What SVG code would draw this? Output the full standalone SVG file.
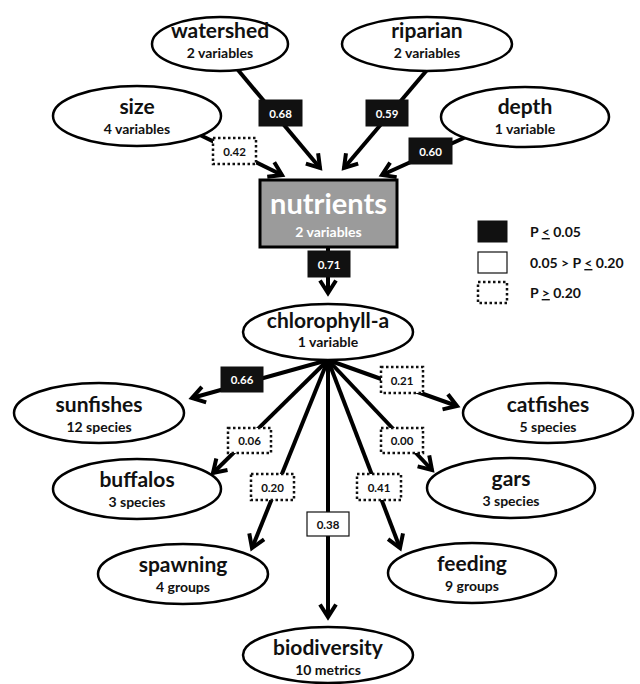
<svg xmlns="http://www.w3.org/2000/svg" width="640" height="684" viewBox="0 0 640 684">
<defs>
<marker id="arr" viewBox="0 0 20 20" markerWidth="20" markerHeight="20" markerUnits="userSpaceOnUse" refX="16" refY="10" orient="auto">
<path d="M3.5,2 L16,10 L3.5,18" fill="none" stroke="#000" stroke-width="4" stroke-linejoin="miter" stroke-linecap="butt"/>
</marker>
</defs>
<style>
text{font-family:Lato,"Open Sans","Liberation Sans",sans-serif;font-weight:bold;text-anchor:middle;fill:#111}
.node ellipse{fill:#fff;stroke:#000;stroke-width:2.5}
.t{font-size:21px}
.s{font-size:14px}
.edge{stroke:#000;stroke-width:4;fill:none;marker-end:url(#arr)}
.lb{fill:#111;stroke:#111;stroke-width:1}
.lw{fill:#fff;stroke:#111;stroke-width:1.2}
.ld{fill:#fff;stroke:#111;stroke-width:2.5;stroke-dasharray:2.5 2.5}
.bt{font-size:11.5px}
.wt{fill:#fff}
.lg{font-size:14px;text-anchor:start}
</style>
<g id="connectors">
<line class="edge" x1="200" y1="135" x2="282" y2="175"/>
<line class="edge" x1="238" y1="70" x2="320" y2="168"/>
<line class="edge" x1="427" y1="70" x2="344" y2="168"/>
<line class="edge" x1="466" y1="137" x2="382" y2="175"/>
<line class="edge" x1="328" y1="247" x2="328" y2="293"/>
<line class="edge" x1="328" y1="360" x2="192" y2="398"/>
<line class="edge" x1="328" y1="360" x2="213" y2="473"/>
<line class="edge" x1="328" y1="360" x2="252" y2="548"/>
<line class="edge" x1="328" y1="360" x2="328" y2="617"/>
<line class="edge" x1="328" y1="360" x2="400" y2="548"/>
<line class="edge" x1="328" y1="360" x2="432" y2="470"/>
<line class="edge" x1="328" y1="360" x2="457" y2="406"/>
<g id="edge-labels">
<rect class="ld" x="213" y="138" width="43" height="26"/><text class="bt" x="234.5" y="155.5">0.42</text>
<rect class="lb" x="259" y="100" width="43" height="26"/><text class="bt wt" x="280.5" y="117.5">0.68</text>
<rect class="lb" x="366" y="100" width="42" height="26"/><text class="bt wt" x="387" y="117.5">0.59</text>
<rect class="lb" x="409" y="138" width="43" height="26"/><text class="bt wt" x="430.5" y="155.5">0.60</text>
<rect class="lb" x="308" y="251" width="42" height="26"/><text class="bt wt" x="329" y="268.5">0.71</text>
<rect class="lb" x="221" y="367" width="42" height="25"/><text class="bt wt" x="242" y="384">0.66</text>
<rect class="ld" x="228" y="428" width="43" height="25"/><text class="bt" x="249.5" y="445">0.06</text>
<rect class="ld" x="251" y="474" width="43" height="26"/><text class="bt" x="272.5" y="491.5">0.20</text>
<rect class="lw" x="307" y="512" width="42" height="24"/><text class="bt" x="328" y="528.5">0.38</text>
<rect class="ld" x="357" y="474" width="44" height="26"/><text class="bt" x="379" y="491.5">0.41</text>
<rect class="ld" x="381" y="428" width="42" height="25"/><text class="bt" x="402" y="445">0.00</text>
<rect class="ld" x="381" y="367" width="42" height="26"/><text class="bt" x="402" y="384.5">0.21</text>
</g>
</g>
<g id="watershed" class="node"><ellipse cx="220" cy="44" rx="68" ry="27"/><text class="t" x="220" y="38">watershed</text><text class="s" x="220" y="58">2 variables</text></g>
<g id="riparian" class="node"><ellipse cx="427" cy="44" rx="85" ry="27"/><text class="t" x="427" y="38">riparian</text><text class="s" x="427" y="58">2 variables</text></g>
<g id="size" class="node"><ellipse cx="137" cy="116" rx="84" ry="30"/><text class="t" x="137" y="114">size</text><text class="s" x="137" y="134">4 variables</text></g>
<g id="depth" class="node"><ellipse cx="525" cy="117" rx="84" ry="30"/><text class="t" x="525" y="114">depth</text><text class="s" x="525" y="134">1 variable</text></g>
<g id="nutrients" class="node"><rect x="260" y="180" width="137" height="67" fill="#9b9b9b" stroke="#000" stroke-width="3"/><text x="328.5" y="214" style="font-size:29px;fill:#fff">nutrients</text><text class="s wt" x="328.5" y="237">2 variables</text></g>
<g id="chlorophyll-a" class="node"><ellipse cx="328" cy="332" rx="85" ry="28"/><text class="t" x="328" y="328">chlorophyll-a</text><text class="s" x="328" y="347">1 variable</text></g>
<g id="sunfishes" class="node"><ellipse cx="99" cy="413" rx="85" ry="30"/><text class="t" x="99" y="412">sunfishes</text><text class="s" x="99" y="432">12 species</text></g>
<g id="catfishes" class="node"><ellipse cx="548" cy="413" rx="85" ry="30"/><text class="t" x="548" y="412">catfishes</text><text class="s" x="548" y="432">5 species</text></g>
<g id="buffalos" class="node"><ellipse cx="137" cy="489" rx="84" ry="30"/><text class="t" x="137" y="487">buffalos</text><text class="s" x="137" y="507">3 species</text></g>
<g id="gars" class="node"><ellipse cx="511" cy="488" rx="84" ry="30"/><text class="t" x="511" y="486">gars</text><text class="s" x="511" y="506">3 species</text></g>
<g id="spawning" class="node"><ellipse cx="183" cy="574" rx="85" ry="30"/><text class="t" x="183" y="572">spawning</text><text class="s" x="183" y="592">4 groups</text></g>
<g id="feeding" class="node"><ellipse cx="472" cy="573" rx="84" ry="30"/><text class="t" x="472" y="571">feeding</text><text class="s" x="472" y="591">9 groups</text></g>
<g id="biodiversity" class="node"><ellipse cx="328" cy="655" rx="85" ry="28"/><text class="t" x="328" y="655">biodiversity</text><text class="s" x="328" y="675">10 metrics</text></g>
<g id="legend">
<rect class="lb" x="478" y="221" width="29" height="21"/>
<rect class="lw" x="478" y="252" width="29" height="21"/>
<rect class="ld" x="478" y="282" width="29" height="21"/>
<text class="lg" x="530" y="237">P <tspan text-decoration="underline">&lt;</tspan> 0.05</text>
<text class="lg" x="530" y="268">0.05 &gt; P <tspan text-decoration="underline">&lt;</tspan> 0.20</text>
<text class="lg" x="530" y="298">P <tspan text-decoration="underline">&gt;</tspan> 0.20</text>
</g>
</svg>
